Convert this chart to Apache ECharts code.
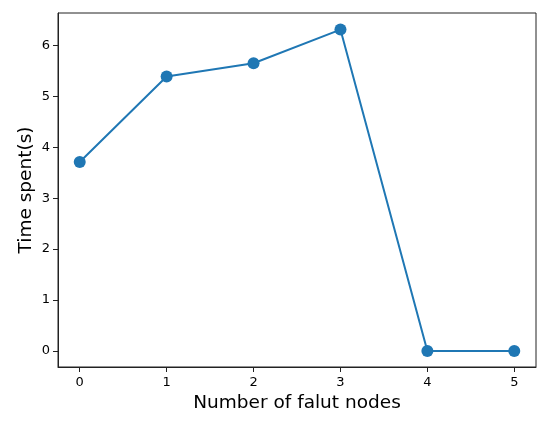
<!DOCTYPE html>
<html>
<head>
<meta charset="utf-8">
<script src="https://cdn.jsdelivr.net/npm/echarts@6/dist/echarts.min.js"></script>
<style>
  html, body { margin: 0; padding: 0; background: #fff; }
  #chart { width: 550px; height: 423px; }
</style>
</head>
<body>
<div id="chart"></div>
<script>
  // data
  var faultNodes = [0, 1, 2, 3, 4, 5];
  var timeSpent = [3.71, 5.39, 5.65, 6.31, 0, 0];
  var xTicks = [0, 1, 2, 3, 4, 5];
  var yTicks = [0, 1, 2, 3, 4, 5, 6];

  var points = faultNodes.map(function (n, i) { return [n, timeSpent[i]]; });

  var myChart = echarts.init(document.getElementById('chart'));
  var font = 'DejaVu Sans';
  var axisColor = '#222';

  myChart.setOption({
    animation: false,
    grid: { left: 58, top: 13, right: 14, bottom: 56, containLabel: false },
    xAxis: {
      type: 'value',
      min: -0.25,
      max: 5.25,
      name: 'Number of falut nodes',
      nameLocation: 'middle',
      nameGap: 27,
      nameTextStyle: { fontFamily: font, fontSize: 18.5, color: '#000' },
      splitLine: { show: false },
      axisLine: { show: true, onZero: false, lineStyle: { color: axisColor, width: 1 } },
      axisTick: { show: true, inside: false, length: 5, customValues: xTicks, lineStyle: { color: axisColor } },
      axisLabel: { customValues: xTicks, fontFamily: font, fontSize: 13, color: '#000', margin: 9 }
    },
    yAxis: {
      type: 'value',
      min: -0.316,
      max: 6.636,
      name: 'Time spent(s)',
      nameLocation: 'middle',
      nameGap: 22,
      nameMoveOverlap: false,
      nameTextStyle: { fontFamily: font, fontSize: 18.5, color: '#000' },
      splitLine: { show: false },
      axisLine: { show: true, onZero: false, lineStyle: { color: axisColor, width: 1 } },
      axisTick: { show: true, inside: false, length: 5, customValues: yTicks, lineStyle: { color: axisColor } },
      axisLabel: { customValues: yTicks, fontFamily: font, fontSize: 13, color: '#000', margin: 8 }
    },
    series: [{
      type: 'line',
      data: points,
      symbol: 'circle',
      symbolSize: 12,
      lineStyle: { color: '#1f77b4', width: 2 },
      itemStyle: { color: '#1f77b4' }
    }],
    // frame on top and right like matplotlib
    graphic: [{
      type: 'rect',
      shape: { x: 58, y: 13, width: 478, height: 354 },
      style: { fill: 'none', stroke: axisColor, lineWidth: 1 },
      silent: true,
      z: -1
    }]
  });
</script>
</body>
</html>
